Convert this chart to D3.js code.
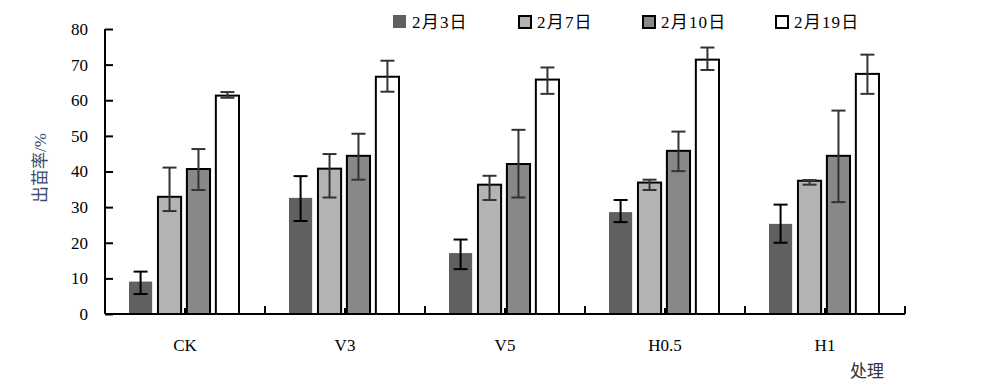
<!DOCTYPE html>
<html>
<head>
<meta charset="utf-8">
<script src="https://cdn.jsdelivr.net/npm/d3@7"></script>
<style>
  html, body { margin: 0; padding: 0; background: #fff; }
  svg text { font-family: "Liberation Serif", "Noto Sans CJK SC", serif; }
</style>
</head>
<body>
<div id="chart"></div>
<script>
// categories (处理) and dates (series)
const categories = ["CK", "V3", "V5", "H0.5", "H1"];
const seriesNames = ["2月3日", "2月7日", "2月10日", "2月19日"];

// 出苗率 / % , one array per date, in category order
const feb3 = [9.1, 32.6, 17.1, 28.6, 25.3];
const feb7 = [32.9, 40.8, 36.3, 36.9, 37.4];
const feb10 = [40.7, 44.4, 42.1, 45.8, 44.4];
const feb19 = [61.3, 66.6, 65.8, 71.4, 67.4];

// error bar ends (upper / lower)
const feb3Hi = [11.9, 38.7, 20.9, 32.0, 30.7];
const feb3Lo = [5.6, 26.1, 12.6, 25.8, 20.0];
const feb7Hi = [41.1, 44.9, 38.8, 37.7, 37.6];
const feb7Lo = [28.9, 32.7, 32.0, 34.8, 36.3];
const feb10Hi = [46.3, 50.6, 51.7, 51.2, 57.1];
const feb10Lo = [34.8, 37.7, 32.7, 40.1, 31.4];
const feb19Hi = [62.3, 71.1, 69.2, 74.8, 72.8];
const feb19Lo = [60.7, 62.4, 61.8, 68.5, 61.8];

const yTicks = [0, 10, 20, 30, 40, 50, 60, 70, 80];

const seriesValues = [feb3, feb7, feb10, feb19];
const seriesHi = [feb3Hi, feb7Hi, feb10Hi, feb19Hi];
const seriesLo = [feb3Lo, feb7Lo, feb10Lo, feb19Lo];

const fills = ["#606060", "#b3b3b3", "#888888", "#ffffff"];
const strokes = ["none", "#000", "#000", "#000"];
const errColors = ["#000", "#333", "#333", "#333"];

const width = 1000, height = 390;
const margin = { top: 29, right: 95, bottom: 76, left: 105 };
const innerWidth = width - margin.left - margin.right;
const innerHeight = height - margin.top - margin.bottom;

const svg = d3.select("#chart").append("svg")
  .attr("width", width)
  .attr("height", height);

const g = svg.append("g")
  .attr("transform", `translate(${margin.left},${margin.top})`);

const x0 = d3.scaleBand().domain(categories).range([0, innerWidth]).paddingInner(0).paddingOuter(0);
const x1 = d3.scaleBand().domain(seriesNames).range([24, x0.bandwidth() - 26]).paddingInner(0.2);
const y = d3.scaleLinear().domain([0, 80]).range([innerHeight, 0]);

// data rows
const rows = categories.map((c, i) => ({
  cat: c,
  bars: seriesNames.map((s, j) => ({
    s, j, v: seriesValues[j][i], hi: seriesHi[j][i], lo: seriesLo[j][i]
  }))
}));

const groups = g.selectAll(".grp").data(rows).enter().append("g")
  .attr("class", "grp")
  .attr("transform", d => `translate(${x0(d.cat)},0)`);

groups.selectAll("rect").data(d => d.bars).enter().append("rect")
  .attr("x", d => x1(d.s))
  .attr("y", d => y(d.v))
  .attr("width", x1.bandwidth())
  .attr("height", d => y(0) - y(d.v))
  .style("fill", d => fills[d.j])
  .style("stroke", d => strokes[d.j])
  .style("stroke-width", 2);

// error bars
const eb = groups.selectAll(".err").data(d => d.bars).enter().append("g")
  .attr("class", "err")
  .style("stroke", d => errColors[d.j])
  .style("stroke-width", 2);

eb.append("line")
  .attr("x1", d => x1(d.s) + x1.bandwidth() / 2)
  .attr("x2", d => x1(d.s) + x1.bandwidth() / 2)
  .attr("y1", d => y(d.hi))
  .attr("y2", d => y(d.lo));
eb.append("line")
  .attr("x1", d => x1(d.s) + x1.bandwidth() / 2 - 7)
  .attr("x2", d => x1(d.s) + x1.bandwidth() / 2 + 7)
  .attr("y1", d => y(d.hi))
  .attr("y2", d => y(d.hi));
eb.append("line")
  .attr("x1", d => x1(d.s) + x1.bandwidth() / 2 - 7)
  .attr("x2", d => x1(d.s) + x1.bandwidth() / 2 + 7)
  .attr("y1", d => y(d.lo))
  .attr("y2", d => y(d.lo));

// y axis
const yAxis = d3.axisLeft(y).tickValues(yTicks).tickSize(-8).tickPadding(17);
const ya = g.append("g").call(yAxis);
ya.select(".domain").attr("d", `M0,${y(0)}V${y(80)}`).style("stroke-width", 2);
ya.selectAll(".tick line").style("stroke-width", 2);
ya.selectAll("text").style("font-size", "17px").style("fill", "#000");

// x axis
const xa = g.append("g").attr("transform", `translate(0,${innerHeight})`);
xa.append("line").attr("x1", 0).attr("x2", innerWidth)
  .style("stroke", "#000").style("stroke-width", 2);
const tickPos = [];
categories.forEach(c => {
  tickPos.push({ x: x0(c) + x0.bandwidth() / 2, h: 6 });
  tickPos.push({ x: x0(c) + x0.bandwidth(), h: 8 });
});
xa.selectAll(".xt").data(tickPos).enter().append("line")
  .attr("x1", d => d.x).attr("x2", d => d.x)
  .attr("y1", 0).attr("y2", d => -d.h)
  .style("stroke", "#000").style("stroke-width", 2);
xa.selectAll(".xl").data(categories).enter().append("text")
  .attr("x", d => x0(d) + x0.bandwidth() / 2)
  .attr("y", 37)
  .attr("text-anchor", "middle")
  .style("font-size", "17px")
  .text(d => d);

// axis titles
svg.append("text")
  .attr("transform", "translate(46,168) rotate(-90)")
  .attr("text-anchor", "middle")
  .style("font-size", "17px")
  .style("fill", "#3c4c70")
  .text("出苗率/%");

svg.append("text")
  .attr("x", 850).attr("y", 377)
  .style("font-size", "17px")
  .style("fill", "#333")
  .text("处理");

// legend
const legendX = [393, 518, 642, 775];
const legend = svg.selectAll(".legend").data(seriesNames).enter().append("g")
  .attr("class", "legend")
  .attr("transform", (d, i) => `translate(${legendX[i]},15)`);
legend.append("rect")
  .attr("x", (d, i) => i === 0 ? 0 : 1)
  .attr("y", (d, i) => i === 0 ? 0 : 1)
  .attr("width", (d, i) => i === 0 ? 13 : 12)
  .attr("height", (d, i) => i === 0 ? 13 : 12)
  .style("fill", (d, i) => fills[i])
  .style("stroke", (d, i) => strokes[i])
  .style("stroke-width", 2);
legend.append("text")
  .attr("x", 19)
  .attr("y", 13)
  .style("font-size", "17px")
  .style("letter-spacing", "1.2px")
  .text(d => d);
</script>
</body>
</html>
